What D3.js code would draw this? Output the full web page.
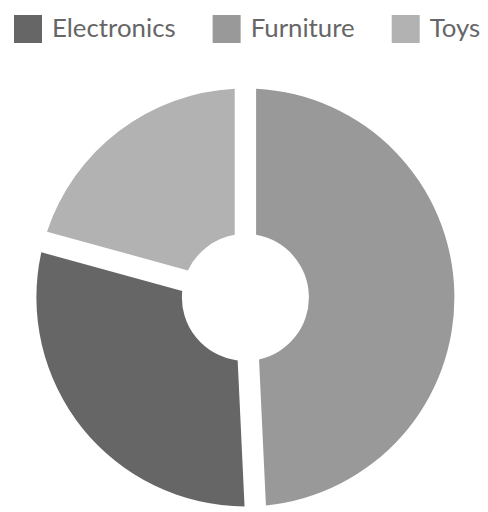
<!DOCTYPE html>
<html>
<head>
<meta charset="utf-8">
<script src="https://cdn.jsdelivr.net/npm/d3@7"></script>
<style>
  html, body { margin: 0; padding: 0; background: #fff; }
  svg { display: block; }
</style>
</head>
<body>
<script>
const categories = ["Electronics", "Furniture", "Toys"];
const values = [300, 492, 207];
const colors = ["#666666", "#999999", "#b2b2b2"];

const width = 488, height = 512;
const cx = 245.4, cy = 297.4;
const outerR = 209, innerR = 63.5;

const svg = d3.select("body").append("svg")
  .attr("width", width).attr("height", height);

const data = categories.map((c, i) => ({ category: c, value: values[i], color: colors[i] }));

const pie = d3.pie().value(d => d.value); // default descending sort
const arc = d3.arc().innerRadius(innerR).outerRadius(outerR).padAngle(0.098);

const g = svg.append("g").attr("transform", `translate(${cx},${cy})`);
g.selectAll("path")
  .data(pie(data))
  .join("path")
  .attr("d", arc)
  .attr("fill", d => d.data.color);

// Legend
const legend = svg.append("g").attr("class", "legend");
let x = 14;
data.forEach(d => {
  const item = legend.append("g").attr("transform", `translate(${x},15)`);
  item.append("rect").attr("width", 28).attr("height", 28).attr("fill", d.color);
  const t = item.append("text")
    .attr("x", 38).attr("y", 21.5)
    .attr("font-family", "Lato, 'Open Sans', sans-serif")
    .attr("font-size", 25.8)
    .attr("fill", "#666")
    .text(d.category);
  const w = t.node().getComputedTextLength();
  x += 38 + w + 37;
});
</script>
</body>
</html>
